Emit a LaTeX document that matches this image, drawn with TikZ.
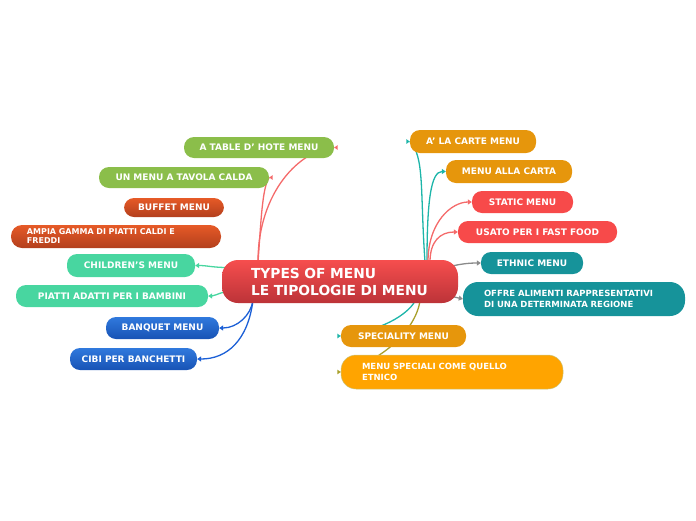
\documentclass[tikz,border=0pt]{standalone}
\usepackage{fontspec}
\setmainfont{DejaVu Sans}
\usetikzlibrary{arrows.meta, calc, backgrounds}
\definecolor{mapgreen}{RGB}{139, 190, 74}
\definecolor{mapmint}{RGB}{72, 214, 160}
\definecolor{maporange}{RGB}{230, 150, 12}
\definecolor{mapamber}{RGB}{255, 164, 0}
\definecolor{mapred}{RGB}{247, 74, 74}
\definecolor{mapteal}{RGB}{22, 147, 154}
\definecolor{linered}{RGB}{244, 106, 106}
\definecolor{lineteal}{RGB}{29, 181, 169}
\definecolor{lineblue}{RGB}{27, 95, 214}
\definecolor{linegray}{RGB}{138, 138, 138}
\definecolor{lineolive}{RGB}{168, 159, 42}
\newcommand{\tipmark}[3]{\fill[#1] (#2) -- ++(#3,2.4) -- ++(0,-4.8) -- cycle;}

\begin{document}
\begin{tikzpicture}[x=1pt, y=-1pt, >={Triangle[length=4pt, width=5pt]},
    topic/.style={rounded corners=10pt, text=white, inner sep=0pt, minimum height=22pt,
      font=\fontsize{9}{11}\selectfont\bfseries},
    note/.style={topic, rounded corners=15pt, align=left, text width=180pt, inner xsep=21pt,
      minimum height=34pt, font=\fontsize{8.5}{11.5}\selectfont\bfseries},
    link/.style={line width=1.3pt}]
    \useasboundingbox (0,0) rectangle (696,520);
    \node[rounded corners=16pt, top color={rgb,255:red,246;green,78;blue,78}, bottom color={rgb,255:red,188;green,51;blue,56},
      text=white, align=left, text width=178pt, inner xsep=29pt, minimum height=43pt,
      font=\fontsize{13.8}{17}\selectfont\bfseries] (ctr) at (340,281.5) {TYPES OF MENU\\LE TIPOLOGIE DI MENU};
    \node[topic, fill=mapgreen, minimum width=150pt, minimum height=21pt] (tbl) at (259,147.5) {A TABLE D' HOTE MENU};
    \node[topic, fill=mapgreen, minimum width=170pt, minimum height=21pt] (tav) at (184,177.5) {UN MENU A TAVOLA CALDA};
    \node[topic, top color={rgb,255:red,230;green,90;blue,39}, bottom color={rgb,255:red,179;green,63;blue,29},
      minimum width=100pt, minimum height=19pt] (buf) at (174,207.5) {BUFFET MENU};
    \node[note, top color={rgb,255:red,230;green,90;blue,39}, bottom color={rgb,255:red,179;green,63;blue,29},
      text width=178pt, inner xsep=16pt, minimum height=23pt, rounded corners=11pt,
      font=\fontsize{8}{9}\selectfont\bfseries] (amp) at (116,236.5) {AMPIA GAMMA DI PIATTI CALDI E\\FREDDI};
    \node[topic, fill=mapmint, minimum width=128pt, minimum height=23pt] (chi) at (131,265.5) {CHILDREN'S MENU};
    \node[topic, fill=mapmint, minimum width=192pt] (bam) at (112,296) {PIATTI ADATTI PER I BAMBINI};
    \node[topic, top color={rgb,255:red,48;green,121;blue,221}, bottom color={rgb,255:red,24;green,83;blue,181},
      minimum width=113pt] (ban) at (162.5,328) {BANQUET MENU};
    \node[topic, top color={rgb,255:red,48;green,121;blue,221}, bottom color={rgb,255:red,24;green,83;blue,181},
      minimum width=127pt] (cib) at (133.5,359) {CIBI PER BANCHETTI};
    \node[topic, fill=maporange, minimum width=126pt, minimum height=23pt] (alc) at (473,141.5) {A' LA CARTE MENU};
    \node[topic, fill=maporange, minimum width=126pt, minimum height=23pt] (car) at (509,171.5) {MENU ALLA CARTA};
    \node[topic, fill=mapred, minimum width=101pt] (sta) at (522.5,202) {STATIC MENU};
    \node[topic, fill=mapred, minimum width=159pt] (fas) at (537.5,232) {USATO PER I FAST FOOD};
    \node[topic, fill=mapteal, minimum width=102pt] (eth) at (532,263) {ETHNIC MENU};
    \node[note, fill=mapteal] (reg) at (574,299) {OFFRE ALIMENTI RAPPRESENTATIVI\\DI UNA DETERMINATA REGIONE};
    \node[topic, fill=maporange, minimum width=125pt] (spe) at (403.5,336) {SPECIALITY MENU};
    \node[note, fill=mapamber, draw=lineolive!60, line width=0.5pt] (etn) at (452,372) {MENU SPECIALI COME QUELLO\\ETNICO};
    \begin{scope}[on background layer=link]
        \draw[linered] ($(ctr.north)+(-82,2)$) .. controls +(0,-70) and +(-34,2) .. (tbl.east);
        \draw[linered] ($(ctr.north)+(-82,2)$) .. controls +(3,-40) and +(-7,10) .. (tav.east);
        \draw[mapmint, ->] ($(ctr.west)+(6,-14)$) .. controls +(-15,0) and +(12,0) .. (chi.east);
        \draw[mapmint, ->] ($(ctr.west)+(6,10)$) .. controls +(-12,2) and +(8,0) .. (bam.east);
        \draw[lineblue, ->] ($(ctr.south)+(-87,-3)$) .. controls +(-2,15) and +(18,0) .. (ban.east);
        \draw[lineblue, ->] ($(ctr.south)+(-87,-3)$) .. controls +(-5,40) and +(30,0) .. (cib.east);
        \draw[lineteal] ($(ctr.north)+(85,2)$) .. controls +(-5,-70) and +(15,15) .. (alc.west);
        \draw[lineteal, ->] ($(ctr.north)+(87,2)$) .. controls +(0,-60) and +(-15,0) .. (car.west);
        \draw[linered, ->] ($(ctr.north)+(88,2)$) .. controls +(0,-40) and +(-20,0) .. (sta.west);
        \draw[linered, ->] ($(ctr.north)+(90,2)$) .. controls +(0,-20) and +(-18,0) .. (fas.west);
        \draw[linegray, ->] ($(ctr.east)+(-8,-15)$) .. controls +(12,-3) and +(-10,0) .. (eth.west);
        \draw[linegray, ->] ($(ctr.east)+(-6,15)$) -- (reg.west);
        \draw[lineteal] ($(ctr.south)+(75,-2)$) .. controls +(-8,14) and +(40,-5) .. (spe.west);
        \draw[lineolive] ($(ctr.south)+(80,-2)$) .. controls +(-5,30) and +(40,-10) .. (etn.west);
    \end{scope}
    \tipmark{linered}{tbl.east}{3.5}
    \tipmark{linered}{tav.east}{3.5}
    \tipmark{lineteal}{alc.west}{-3.5}
    \tipmark{lineteal}{spe.west}{-3.5}
    \tipmark{lineolive}{etn.west}{-3.5}
\end{tikzpicture}
\end{document}
